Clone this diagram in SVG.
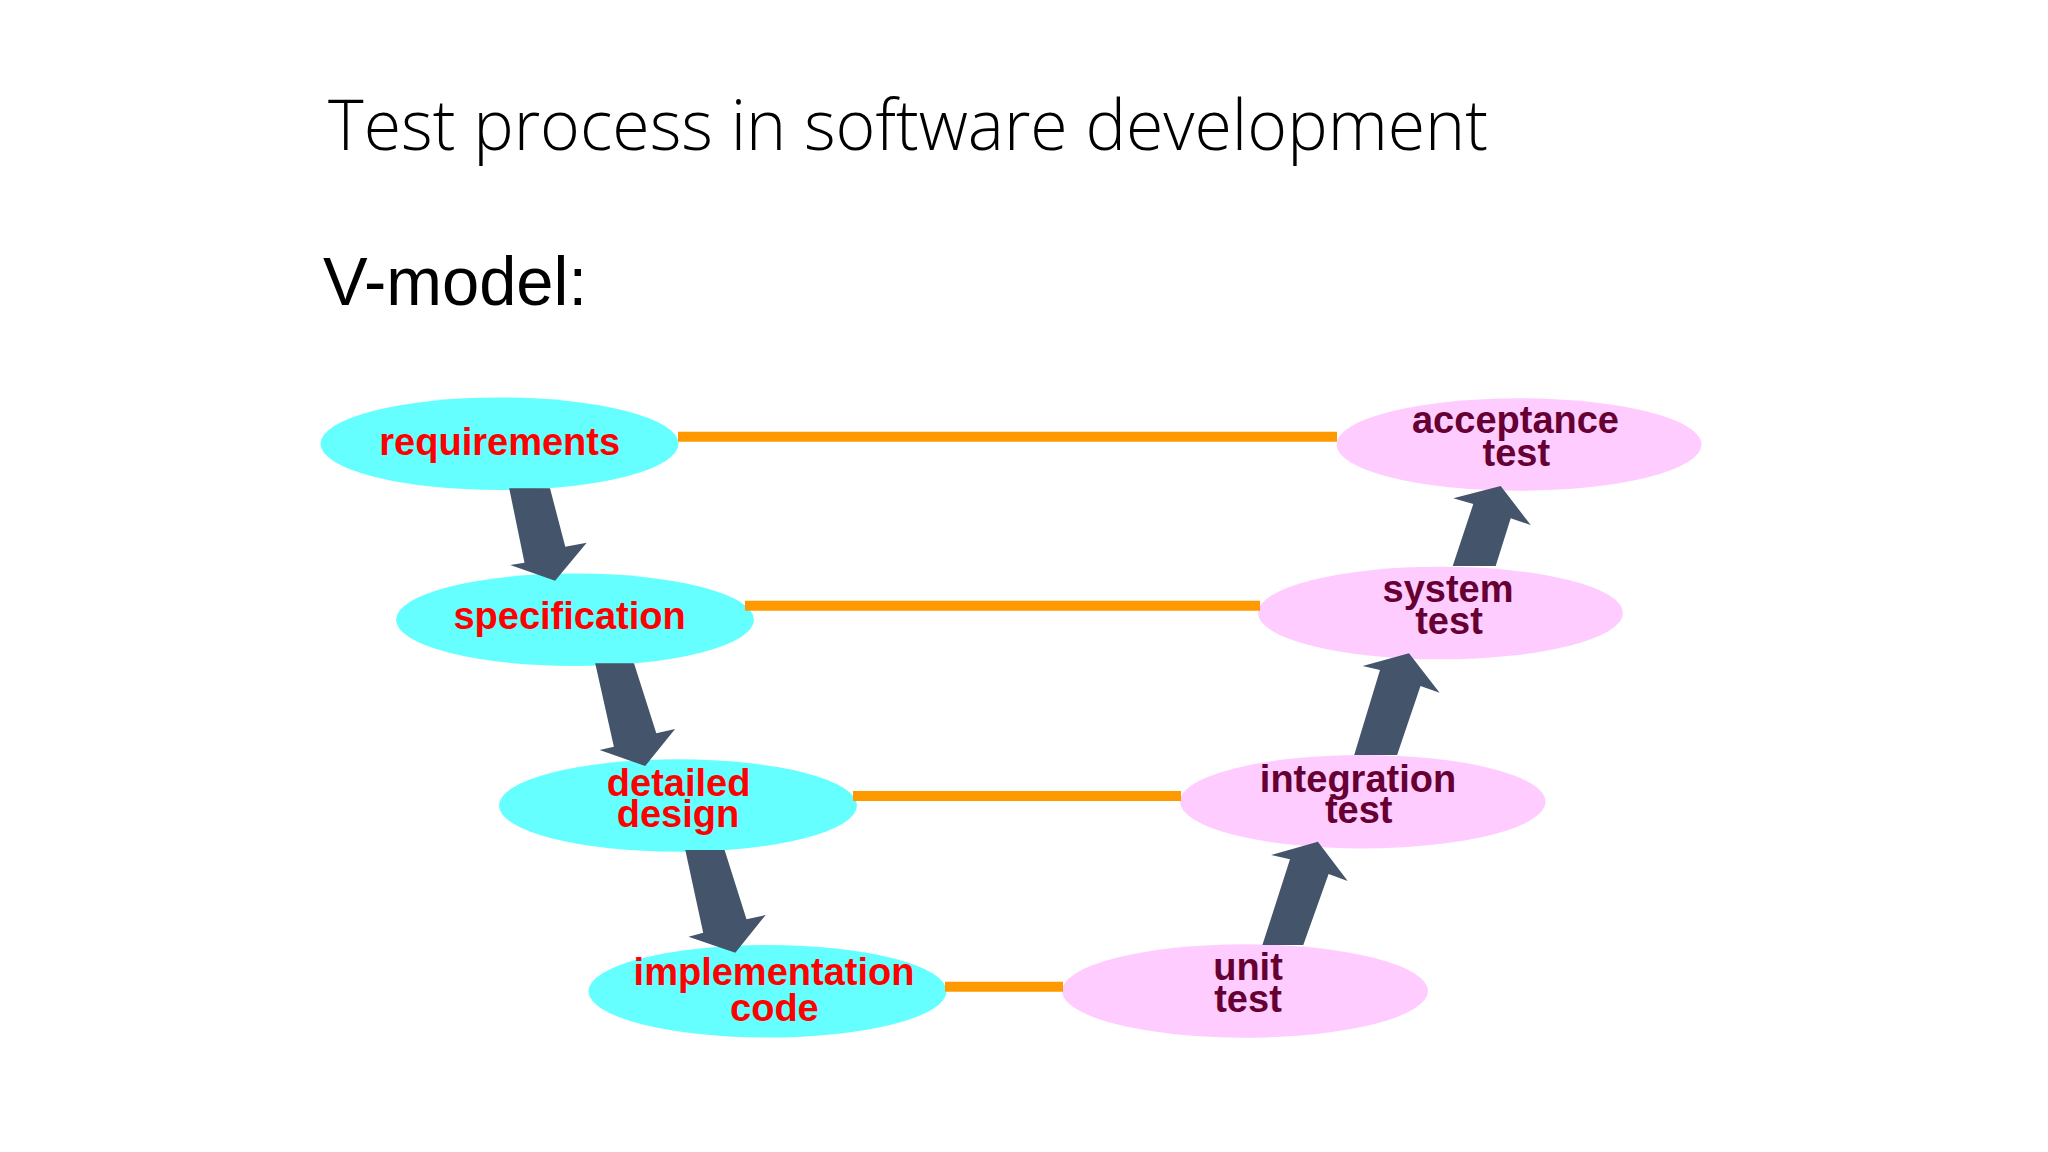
<svg xmlns="http://www.w3.org/2000/svg" width="2048" height="1152" viewBox="0 0 2048 1152">
  <style>
    .title { font-family: "Open Sans", "Liberation Sans", sans-serif; font-weight: 300; font-size: 70px; fill: #000; }
    .sub { font-family: "Liberation Sans", Arial, sans-serif; font-size: 68px; fill: #000; }
    .dev { fill: #66FFFF; }
    .tst { fill: #FFCCFF; }
    .dl { font-family: "Liberation Sans", Arial, sans-serif; font-weight: bold; font-size: 38px; fill: #FF0000; text-anchor: middle; }
    .tl { font-family: "Liberation Sans", Arial, sans-serif; font-weight: bold; font-size: 38px; fill: #660033; text-anchor: middle; }
    .link { stroke: #FF9900; stroke-width: 10; fill: none; }
    .arrow { fill: #44546A; }
  </style>
  <rect width="2048" height="1152" fill="#FFFFFF"/>
  <text class="title" x="328" y="150" textLength="1160" lengthAdjust="spacingAndGlyphs">Test process in software development</text>
  <text class="sub" x="323" y="305" textLength="264" lengthAdjust="spacingAndGlyphs">V-model:</text>

  <g id="requirements">
    <ellipse class="dev" cx="499.5" cy="443.7" rx="179" ry="46.3"/>
    <text class="dl" x="499.7" y="455">requirements</text>
  </g>
  <g id="specification">
    <ellipse class="dev" cx="575" cy="619.7" rx="179" ry="46.3"/>
    <text class="dl" x="569.6" y="629">specification</text>
  </g>
  <g id="detailed-design">
    <ellipse class="dev" cx="678" cy="805.5" rx="179" ry="46.2"/>
    <text class="dl" x="678.6" y="796">detailed</text>
    <text class="dl" x="678" y="827">design</text>
  </g>
  <g id="implementation-code">
    <ellipse class="dev" cx="767.5" cy="991.3" rx="179" ry="46.3"/>
    <text class="dl" x="774" y="985">implementation</text>
    <text class="dl" x="774.4" y="1021">code</text>
  </g>
  <g id="acceptance-test">
    <ellipse class="tst" cx="1519" cy="444.5" rx="182.5" ry="46.2"/>
    <text class="tl" x="1515.5" y="433.3">acceptance</text>
    <text class="tl" x="1516.3" y="466">test</text>
  </g>
  <g id="system-test">
    <ellipse class="tst" cx="1440.5" cy="613" rx="182.5" ry="46.3"/>
    <text class="tl" x="1448" y="601.7">system</text>
    <text class="tl" x="1449" y="634">test</text>
  </g>
  <g id="integration-test">
    <ellipse class="tst" cx="1362.8" cy="801.7" rx="182.8" ry="46.7"/>
    <text class="tl" x="1358" y="791.7">integration</text>
    <text class="tl" x="1358.7" y="822.7">test</text>
  </g>
  <g id="unit-test">
    <ellipse class="tst" cx="1245" cy="991" rx="183" ry="46.7"/>
    <text class="tl" x="1248" y="980">unit</text>
    <text class="tl" x="1248" y="1012">test</text>
  </g>

  <g id="connectors">
    <line class="link" x1="678" y1="436.7" x2="1337" y2="436.7"/>
    <line class="link" x1="745" y1="605.7" x2="1260" y2="605.7"/>
    <line class="link" x1="853" y1="796" x2="1181" y2="796"/>
    <line class="link" x1="945" y1="986.7" x2="1063" y2="986.7"/>
    <polygon class="arrow" points="509.2,488.3 550,488.3 565.3,546.7 586.7,542.7 555.1,580.7 510.2,565 524.5,562.7"/>
    <polygon class="arrow" points="595.2,663.3 634,663.3 656.3,733.3 675.1,729 645.2,766 599.6,750 613.9,746.7"/>
    <polygon class="arrow" points="685.3,850 724.6,850 746.5,919.3 765.7,915 735.3,952.7 688.5,936.7 703.2,932.7"/>
    <polygon class="arrow" points="1262.4,945 1303.3,945 1328.6,874 1347.7,881 1317.9,841.7 1271.2,855 1290,859.3"/>
    <polygon class="arrow" points="1354.2,755 1397.1,755 1420.5,686 1439.6,692.7 1409,653.3 1362.7,666 1380,670"/>
    <polygon class="arrow" points="1452.7,566 1495.7,566 1510.7,518.3 1530.7,525 1500.7,486 1453.3,498.3 1473.3,504"/>
  </g>
</svg>
